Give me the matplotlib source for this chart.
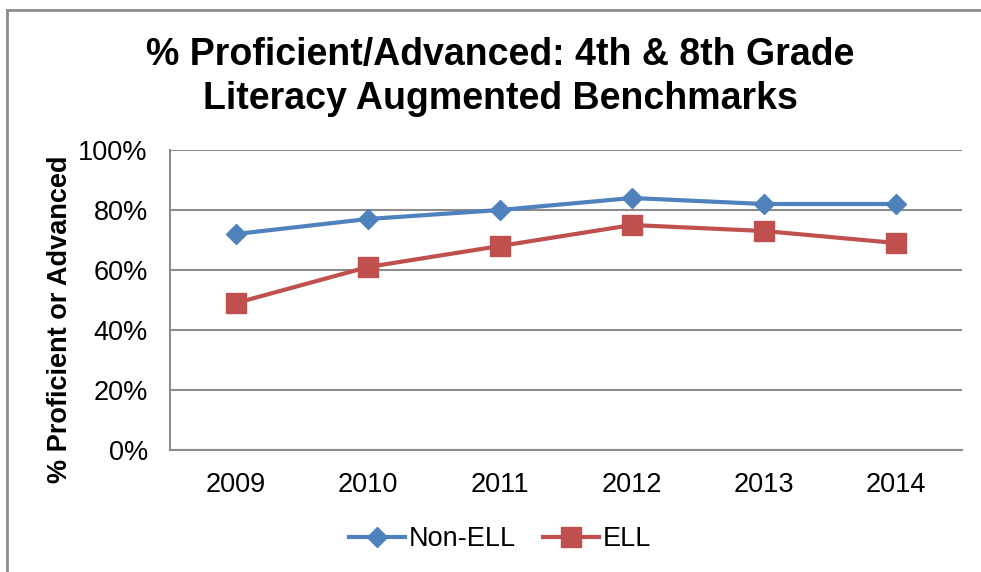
import matplotlib
matplotlib.use("Agg")
import matplotlib.pyplot as plt
from matplotlib.lines import Line2D
from matplotlib.ticker import PercentFormatter

plt.rcParams['font.family'] = ['Liberation Sans', 'DejaVu Sans']

years = ["2009", "2010", "2011", "2012", "2013", "2014"]
non_ell = [72, 77, 80, 84, 82, 82]
ell = [49, 61, 68, 75, 73, 69]

BLUE = "#4F81BD"
RED = "#C0504D"
GRID = "#8C8C8C"

fig = plt.figure(figsize=(9.81, 5.72), dpi=100)
ax = fig.add_axes([170 / 981, 1 - 450 / 572, 792 / 981, 300 / 572])

x = list(range(len(years)))
ax.plot(x, non_ell, color=BLUE, lw=3, marker="D", ms=10.5, label="Non-ELL")
ax.plot(x, ell, color=RED, lw=3, marker="s", ms=14, label="ELL")

ax.set_xlim(-0.5, len(years) - 0.5)
ax.set_ylim(0, 100)
ax.set_yticks(range(0, 101, 20))
ax.yaxis.set_major_formatter(PercentFormatter(decimals=0))
ax.set_xticks(x)
ax.set_xticklabels(years)
ax.tick_params(axis="both", length=0, labelsize=19.5)
ax.tick_params(axis="x", pad=16)
ax.tick_params(axis="y", pad=16)
ax.grid(axis="y", color=GRID, lw=1.5)
ax.set_axisbelow(True)
for s in ["top", "right"]:
    ax.spines[s].set_visible(False)
for s in ["left", "bottom"]:
    ax.spines[s].set_color(GRID)
    ax.spines[s].set_linewidth(1.5)

ax.set_ylabel("% Proficient or Advanced", fontsize=19.5, fontweight="bold", labelpad=4)
ax.yaxis.label.set_y(0.437)

fig.text(500 / 981, 1 - 77 / 572, "% Proficient/Advanced: 4th & 8th Grade\nLiteracy Augmented Benchmarks",
         ha="center", va="center", fontsize=27, fontweight="bold", linespacing=1.31)

ax.legend(loc="center", bbox_to_anchor=(500 / 981, (572 - 539) / 572), bbox_transform=fig.transFigure,
          ncol=2, frameon=False, fontsize=19.5, handlelength=2.07, handletextpad=0.15,
          columnspacing=1.0)

# outer chart-area border (left and top only visible)
fig.add_artist(Line2D([7 / 981, 7 / 981], [0, 1 - 10 / 572], color=GRID, lw=2,
                      transform=fig.transFigure))
fig.add_artist(Line2D([7 / 981, 1], [1 - 10 / 572, 1 - 10 / 572], color=GRID, lw=2,
                      transform=fig.transFigure))

fig.savefig("out.png", dpi=100)
